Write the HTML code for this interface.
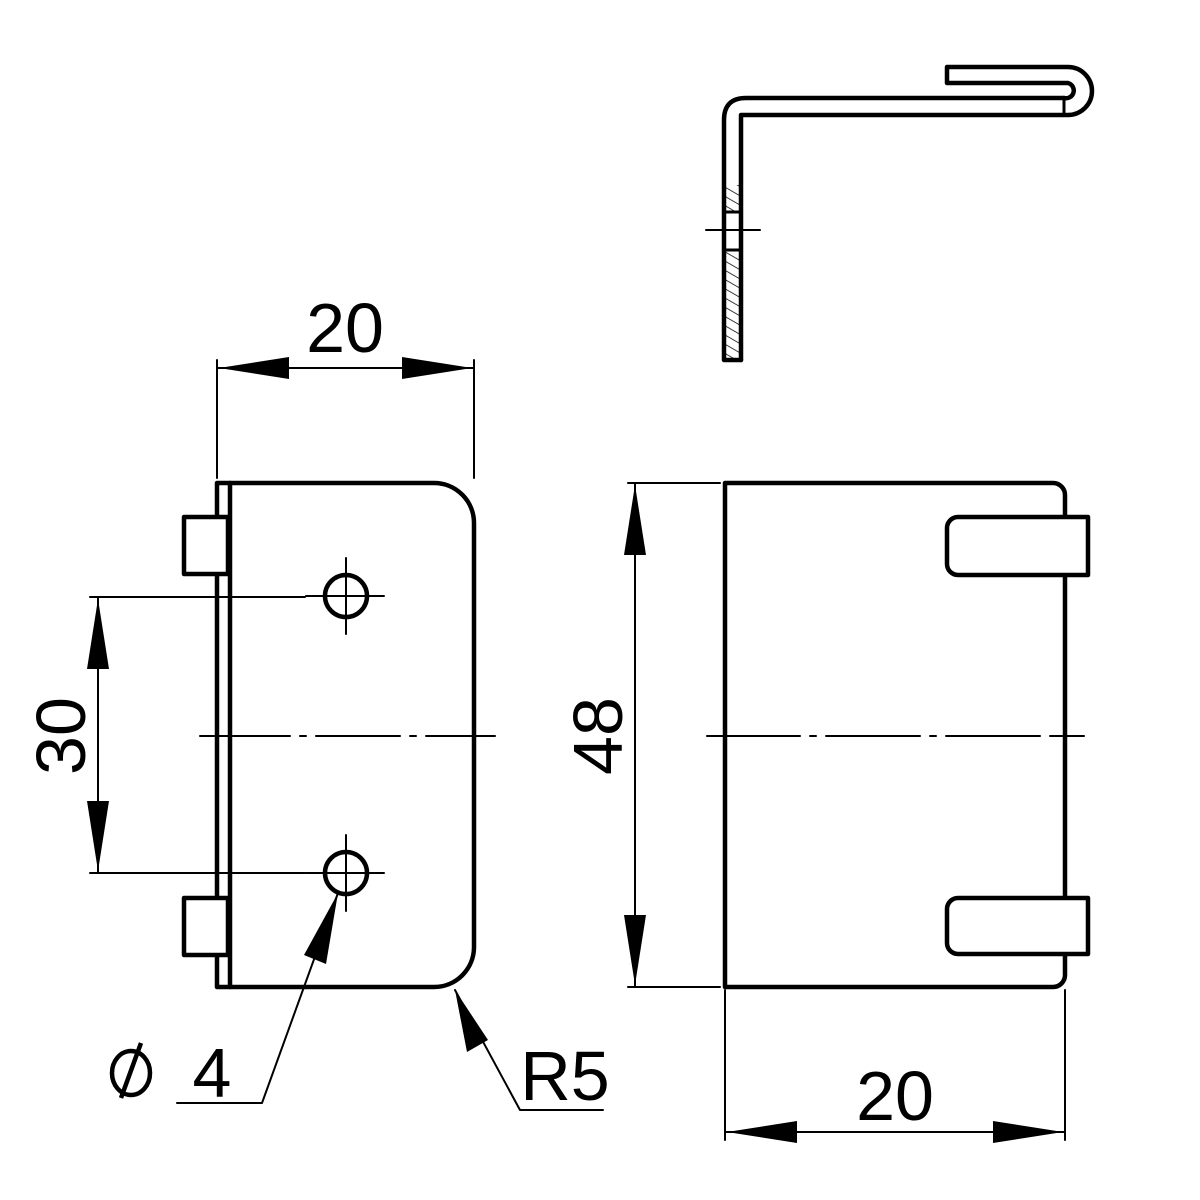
<!DOCTYPE html>
<html><head><meta charset="utf-8"><style>html,body{margin:0;padding:0;background:#fff}svg{display:block}</style></head>
<body>
<svg width="1200" height="1200" viewBox="0 0 1200 1200" xmlns="http://www.w3.org/2000/svg" font-family="Liberation Sans, DejaVu Sans, sans-serif">
<rect width="1200" height="1200" fill="#fff"/>
<defs>
<pattern id="h" width="8" height="8" patternUnits="userSpaceOnUse" patternTransform="rotate(-60)"><line x1="0" y1="0" x2="0" y2="8" stroke="#000" stroke-width="1.5"/></pattern>
</defs>
<g fill="none" stroke="#000" stroke-linecap="round" stroke-linejoin="round">
<!-- side view -->
<rect x="726" y="185" width="14" height="27" fill="url(#h)" stroke="none"/>
<rect x="726" y="250" width="14" height="108" fill="url(#h)" stroke="none"/>
<path d="M741,360 H724 V120 Q724,98 746,98 H1064" stroke-width="4.5"/>
<path d="M741,360 V115 H1068 A24,24 0 0 0 1068,67 H947 V83 H1068 A7.5,7.5 0 0 1 1064,98" stroke-width="4.5"/>
<path d="M1064,98 L1064,115" stroke-width="3"/>
<path d="M726,212 L740,212 M726,250 L740,250" stroke-width="3"/>
<line x1="706" y1="230" x2="760" y2="230" stroke-width="2"/>

<!-- left front view -->
<path d="M217,483 L434,483 A40,40 0 0 1 474,523 L474,947 A40,40 0 0 1 434,987 L217,987 Z" stroke-width="4.5"/>
<line x1="230" y1="483" x2="230" y2="987" stroke-width="4.5"/>
<rect x="184" y="517" width="44" height="57" stroke-width="4.5" fill="#fff"/>
<rect x="184" y="898" width="44" height="57" stroke-width="4.5" fill="#fff"/>
<circle cx="346" cy="596" r="21" stroke-width="4.5"/>
<circle cx="346" cy="873" r="21" stroke-width="4.5"/>
<path d="M346,558 V634 M306,596 H384 M346,835 V911 M306,873 H384" stroke-width="2"/>
<path d="M200,736 H290 M300,736 H306 M316,736 H400 M410,736 H416 M426,736 H495" stroke-width="2"/>

<!-- right front view -->
<path d="M725,483 L1053,483 A12,12 0 0 1 1065,495 L1065,975 A12,12 0 0 1 1053,987 L725,987 Z" stroke-width="4.5"/>
<path d="M1088,517 L958,517 A11,11 0 0 0 947,528 L947,564 A11,11 0 0 0 958,575 L1088,575 Z" stroke-width="4.5" fill="#fff"/>
<path d="M1088,898 L958,898 A11,11 0 0 0 947,909 L947,943 A11,11 0 0 0 958,954 L1088,954 Z" stroke-width="4.5" fill="#fff"/>
<path d="M707,736 H800 M810,736 H816 M826,736 H920 M930,736 H936 M946,736 H1040 M1050,736 H1084" stroke-width="2"/>

<!-- dimension lines -->
<g stroke-width="2">
<path d="M217,360 V478 M474,360 V478 M217,368 H474"/>
<path d="M90,597 H305 M90,873 H305 M98,597 V873"/>
<path d="M628,483 H720 M628,987 H720 M635,483 V987"/>
<path d="M725,990 V1140 M1065,990 V1140 M725,1132 H1065"/>
<path d="M338,893 L262,1103 L177,1103"/>
<path d="M455,990 L520,1110 L603,1110"/>
</g>
</g>
<g fill="#000" stroke="none">
<polygon points="219,368 289,357 289,379"/>
<polygon points="472,368 402,357 402,379"/>
<polygon points="98,599 87,669 109,669"/>
<polygon points="98,871 87,801 109,801"/>
<polygon points="635,485 624,555 646,555"/>
<polygon points="635,985 624,915 646,915"/>
<polygon points="727,1132 797,1121 797,1143"/>
<polygon points="1063,1132 993,1121 993,1143"/>
<polygon points="338,893 304,955 326,964"/>
<polygon points="455,990 467,1052 488,1040"/>
</g>
<g fill="#000" font-size="70">
<text x="345" y="352" text-anchor="middle">20</text>
<text x="895" y="1120" text-anchor="middle">20</text>
<text transform="translate(85,736) rotate(-90)" text-anchor="middle">30</text>
<text transform="translate(622,736) rotate(-90)" text-anchor="middle">48</text>
<text x="565" y="1100" text-anchor="middle">R5</text>
<text x="212" y="1097" text-anchor="middle">4</text>
</g>
<g stroke="#000" stroke-width="4.5" fill="none">
<ellipse cx="131" cy="1073" rx="19" ry="22"/>
<line x1="141" y1="1043" x2="121" y2="1098"/>
</g>
</svg>
</body></html>
